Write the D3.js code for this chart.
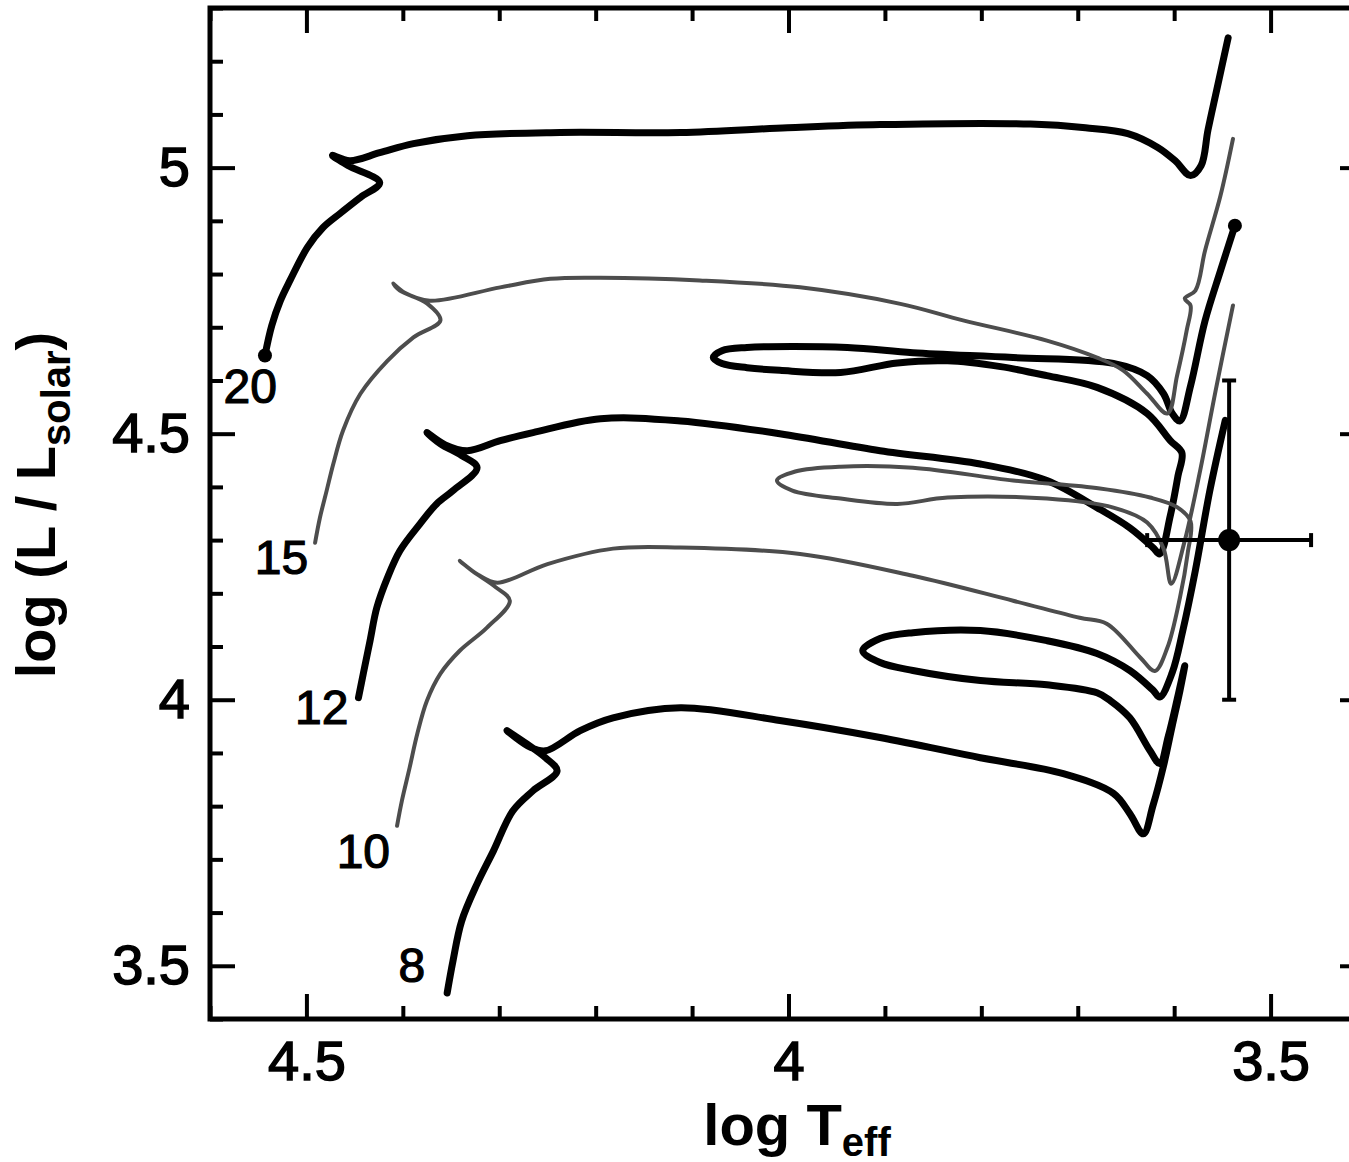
<!DOCTYPE html>
<html>
<head>
<meta charset="utf-8">
<script src="https://cdn.jsdelivr.net/npm/d3@7"></script>
<style>
  body { margin: 0; background: #fff; }
  svg { display: block; }
</style>
</head>
<body>
<script>
// evolutionary tracks, points are [log Teff, log L/Lsun]
const masses = ["20", "15", "12", "10", "8"];

const track20 = [
  [4.543,4.647],[4.536,4.703],[4.527,4.750],[4.517,4.788],[4.499,4.850],[4.483,4.887],[4.465,4.914],
  [4.444,4.944],[4.424,4.972],[4.457,5.004],[4.473,5.023],[4.455,5.013],[4.424,5.028],[4.389,5.045],
  [4.333,5.060],[4.237,5.066],[4.112,5.066],[4.001,5.075],[3.905,5.081],[3.749,5.082],[3.692,5.075],
  [3.648,5.064],[3.617,5.038],[3.599,5.013],[3.583,4.985],[3.572,5.004],[3.565,5.070],[3.556,5.145],
  [3.544,5.244]
];

const track15 = [
  [4.491,4.295],[4.486,4.342],[4.479,4.393],[4.472,4.444],[4.462,4.506],[4.444,4.575],[4.416,4.637],
  [4.389,4.681],[4.361,4.713],[4.375,4.745],[4.403,4.769],[4.410,4.782],[4.398,4.765],[4.372,4.750],
  [4.299,4.775],[4.247,4.791],[4.195,4.793],[4.092,4.788],[3.988,4.775],[3.884,4.744],[3.819,4.713],
  [3.732,4.675],[3.680,4.643],[3.653,4.619],[3.628,4.575],[3.607,4.538],[3.597,4.609],[3.587,4.694],
  [3.583,4.741],[3.589,4.754],[3.578,4.769],[3.568,4.844],[3.552,4.947],[3.539,5.054]
];

const track12 = [
  [4.446,4.004],[4.441,4.049],[4.434,4.111],[4.427,4.173],[4.416,4.229],[4.403,4.280],[4.382,4.331],
  [4.365,4.368],[4.348,4.393],[4.323,4.436],[4.339,4.459],[4.361,4.481],[4.375,4.502],[4.356,4.479],
  [4.333,4.468],[4.299,4.487],[4.265,4.502],[4.195,4.528],[4.112,4.524],[4.009,4.500],[3.905,4.468],
  [3.801,4.443],[3.732,4.412],[3.680,4.361],[3.646,4.323],[3.622,4.286],[3.615,4.274],[3.604,4.346],
  [3.596,4.421],[3.592,4.464],[3.604,4.487],[3.628,4.538],[3.680,4.587],[3.732,4.609],[3.780,4.626],
  [3.835,4.637],[3.887,4.633],[3.946,4.615],[4.009,4.619],[4.043,4.624],[4.069,4.632],[4.078,4.643],
  [4.069,4.656],[4.043,4.662],[3.939,4.662],[3.871,4.652],[3.767,4.643],[3.663,4.632],[3.628,4.609],
  [3.611,4.575],[3.602,4.538],[3.594,4.524],[3.583,4.590],[3.568,4.712],[3.552,4.806],[3.537,4.891]
];

const track10 = [
  [4.406,3.763],[4.401,3.810],[4.393,3.872],[4.385,3.936],[4.375,3.998],[4.361,4.049],[4.341,4.092],
  [4.313,4.135],[4.289,4.186],[4.304,4.212],[4.328,4.242],[4.341,4.261],[4.322,4.235],[4.302,4.220],
  [4.250,4.255],[4.182,4.284],[4.112,4.286],[3.988,4.274],[3.871,4.233],[3.767,4.186],[3.698,4.154],
  [3.670,4.143],[3.635,4.079],[3.620,4.054],[3.607,4.098],[3.594,4.192],[3.586,4.275],[3.583,4.335],
  [3.597,4.362],[3.625,4.380],[3.677,4.397],[3.767,4.412],[3.871,4.436],[3.946,4.438],[3.993,4.429],
  [4.012,4.412],[3.996,4.393],[3.946,4.378],[3.887,4.368],[3.835,4.380],[3.732,4.378],[3.663,4.361],
  [3.628,4.333],[3.611,4.284],[3.603,4.218],[3.589,4.299],[3.573,4.431],[3.557,4.581],[3.539,4.741]
];

const track8 = [
  [4.354,3.449],[4.348,3.509],[4.339,3.584],[4.323,3.654],[4.306,3.716],[4.286,3.791],[4.265,3.829],
  [4.240,3.866],[4.252,3.891],[4.273,3.919],[4.292,3.942],[4.268,3.911],[4.252,3.904],[4.216,3.942],
  [4.182,3.966],[4.112,3.985],[4.009,3.961],[3.905,3.929],[3.801,3.891],[3.715,3.861],[3.663,3.824],
  [3.646,3.786],[3.632,3.748],[3.622,3.801],[3.611,3.876],[3.602,3.951],[3.594,4.017],[3.589,4.064],
  [3.596,4.008],[3.606,3.932],[3.615,3.880],[3.625,3.904],[3.646,3.966],[3.666,3.998],[3.680,4.013],
  [3.732,4.028],[3.801,4.036],[3.871,4.055],[3.905,4.070],[3.923,4.092],[3.905,4.115],[3.871,4.126],
  [3.801,4.130],[3.732,4.111],[3.680,4.087],[3.646,4.055],[3.622,4.018],[3.615,4.005],[3.602,4.051],
  [3.591,4.130],[3.578,4.243],[3.563,4.393],[3.547,4.525]
];

const tracks = [track20, track15, track12, track10, track8];

// observed star with error bars
const starTeff = 3.543, starTeffErr = 0.085;
const starLum = 4.30, starLumErr = 0.30;

// axis ticks
const xMajor = [4.5, 4, 3.5];
const yMajor = [5, 4.5, 4, 3.5];
const xMinor = [4.6, 4.4, 4.3, 4.2, 4.1, 3.9, 3.8, 3.7, 3.6, 3.4];
const yMinor = [5.3, 5.2, 5.1, 4.9, 4.8, 4.7, 4.6, 4.4, 4.3, 4.2, 4.1, 3.9, 3.8, 3.7, 3.6, 3.4];

// styling
const trackColor = ["#000", "#4d4d4d", "#000", "#4d4d4d", "#000"];
const trackWidth = [7, 4, 7, 4, 7];
const labelShift = [[12, 48], [-7, 31], [-10, 26], [-7, 42], [-22, -11]];
const font = "'Liberation Sans', Arial, Helvetica, sans-serif";

function setattrs(shape, dict) {
  for (let [prop, val] of Object.entries(dict)) {
    shape.attr(prop, val)
  }
}

const W = 1349, H = 1162;
const svg = d3.select("body").append("svg");
setattrs(svg, {"width": W, "height": H});
setattrs(svg.append("rect"), {"width": W, "height": H, "fill": "#fff"});

const x = d3.scaleLinear().domain([4.6, 3.4]).range([210, 1367]);
const y = d3.scaleLinear().domain([3.4, 5.3]).range([1019, 8]);

const line = d3.line()
  .x(d => x(d[0]))
  .y(d => y(d[1]))
  .curve(d3.curveCatmullRom.alpha(0.5));

// black tracks underneath, grey on top
const order = [0, 2, 4, 1, 3];
for (let i of order) {
  setattrs(svg.append("path").datum(tracks[i]), {
    "d": line,
    "fill": "none",
    "stroke": trackColor[i],
    "stroke-width": trackWidth[i],
    "stroke-linejoin": "round",
    "stroke-linecap": "round"
  })
}

// end dots on the 20 (start) and 12 (end) tracks
const dots = [track20[0], track12[track12.length - 1]];
svg.selectAll(".enddot").data(dots).join("circle")
  .attr("class", "enddot")
  .attr("cx", d => x(d[0]))
  .attr("cy", d => y(d[1]))
  .attr("r", 7)
  .attr("fill", "#000");

// mass labels near the ZAMS ends
tracks.forEach((t, i) => {
  const lab = svg.append("text").text(masses[i]);
  setattrs(lab, {
    "x": x(t[0][0]) + labelShift[i][0],
    "y": y(t[0][1]) + labelShift[i][1],
    "text-anchor": "end",
    "font-family": font,
    "font-size": 48,
    "fill": "#000",
    "stroke": "#000",
    "stroke-width": 1.2
  })
});

// error bars
const eb = svg.append("g").attr("stroke", "#000").attr("stroke-width", 4);
setattrs(eb.append("line"), {"x1": x(starTeff), "x2": x(starTeff), "y1": y(starLum - starLumErr), "y2": y(starLum + starLumErr)});
setattrs(eb.append("line"), {"x1": x(starTeff + starTeffErr), "x2": x(starTeff - starTeffErr), "y1": y(starLum), "y2": y(starLum)});
for (let v of [starLum - starLumErr, starLum + starLumErr]) {
  setattrs(eb.append("line"), {"x1": x(starTeff) - 7, "x2": x(starTeff) + 7, "y1": y(v), "y2": y(v)});
}
for (let v of [starTeff - starTeffErr, starTeff + starTeffErr]) {
  setattrs(eb.append("line"), {"x1": x(v), "x2": x(v), "y1": y(starLum) - 7, "y2": y(starLum) + 7});
}
setattrs(svg.append("circle"), {"cx": x(starTeff), "cy": y(starLum), "r": 11, "fill": "#000"});

// axes, ticks pointing inward
const x0 = x.range()[0], x1 = x.range()[1];
const y0 = y.range()[0], y1 = y.range()[1];

function styleAxis(g) {
  g.select(".domain").remove();
  g.selectAll(".tick line").attr("stroke", "#000").attr("stroke-width", 4);
  g.selectAll("text")
    .attr("font-family", font)
    .attr("font-size", 56)
    .attr("fill", "#000")
    .attr("stroke", "#000")
    .attr("stroke-width", 1.5);
}

const fmt = d3.format("");
svg.append("g").attr("transform", `translate(0,${y0})`)
  .call(d3.axisBottom(x).tickValues(xMajor).tickSize(-25).tickPadding(21).tickFormat(fmt)).call(styleAxis);
svg.append("g").attr("transform", `translate(0,${y0})`)
  .call(d3.axisBottom(x).tickValues(xMinor).tickSize(-13).tickFormat("")).call(styleAxis);
svg.append("g").attr("transform", `translate(0,${y1})`)
  .call(d3.axisTop(x).tickValues(xMajor).tickSize(-25).tickFormat("")).call(styleAxis);
svg.append("g").attr("transform", `translate(0,${y1})`)
  .call(d3.axisTop(x).tickValues(xMinor).tickSize(-13).tickFormat("")).call(styleAxis);

svg.append("g").attr("transform", `translate(${x0},0)`)
  .call(d3.axisLeft(y).tickValues(yMajor).tickSize(-25).tickPadding(20).tickFormat(fmt)).call(styleAxis);
svg.append("g").attr("transform", `translate(${x0},0)`)
  .call(d3.axisLeft(y).tickValues(yMinor).tickSize(-13).tickFormat("")).call(styleAxis);
svg.append("g").attr("transform", `translate(${x1},0)`)
  .call(d3.axisRight(y).tickValues(yMajor).tickSize(-27).tickFormat("")).call(styleAxis);
svg.append("g").attr("transform", `translate(${x1},0)`)
  .call(d3.axisRight(y).tickValues(yMinor).tickSize(-13).tickFormat("")).call(styleAxis);

// frame
setattrs(svg.append("rect"), {
  "x": x0, "y": y1, "width": x1 - x0, "height": y0 - y1,
  "fill": "none", "stroke": "#000", "stroke-width": 5
});

// axis titles
const xt = svg.append("text");
setattrs(xt, {"x": 797, "y": 1145, "text-anchor": "middle", "font-family": font,
  "font-weight": "bold", "font-size": 58, "fill": "#000"});
xt.append("tspan").text("log T");
xt.append("tspan").text("eff").attr("font-size", 40).attr("dy", 11);

const yt = svg.append("text");
setattrs(yt, {"transform": "translate(55,505) rotate(-90)", "text-anchor": "middle",
  "font-family": font, "font-weight": "bold", "font-size": 56, "fill": "#000"});
yt.append("tspan").text("log (L / L");
yt.append("tspan").text("solar").attr("font-size", 40).attr("dy", 15);
yt.append("tspan").text(")").attr("dy", -15);
</script>
</body>
</html>
